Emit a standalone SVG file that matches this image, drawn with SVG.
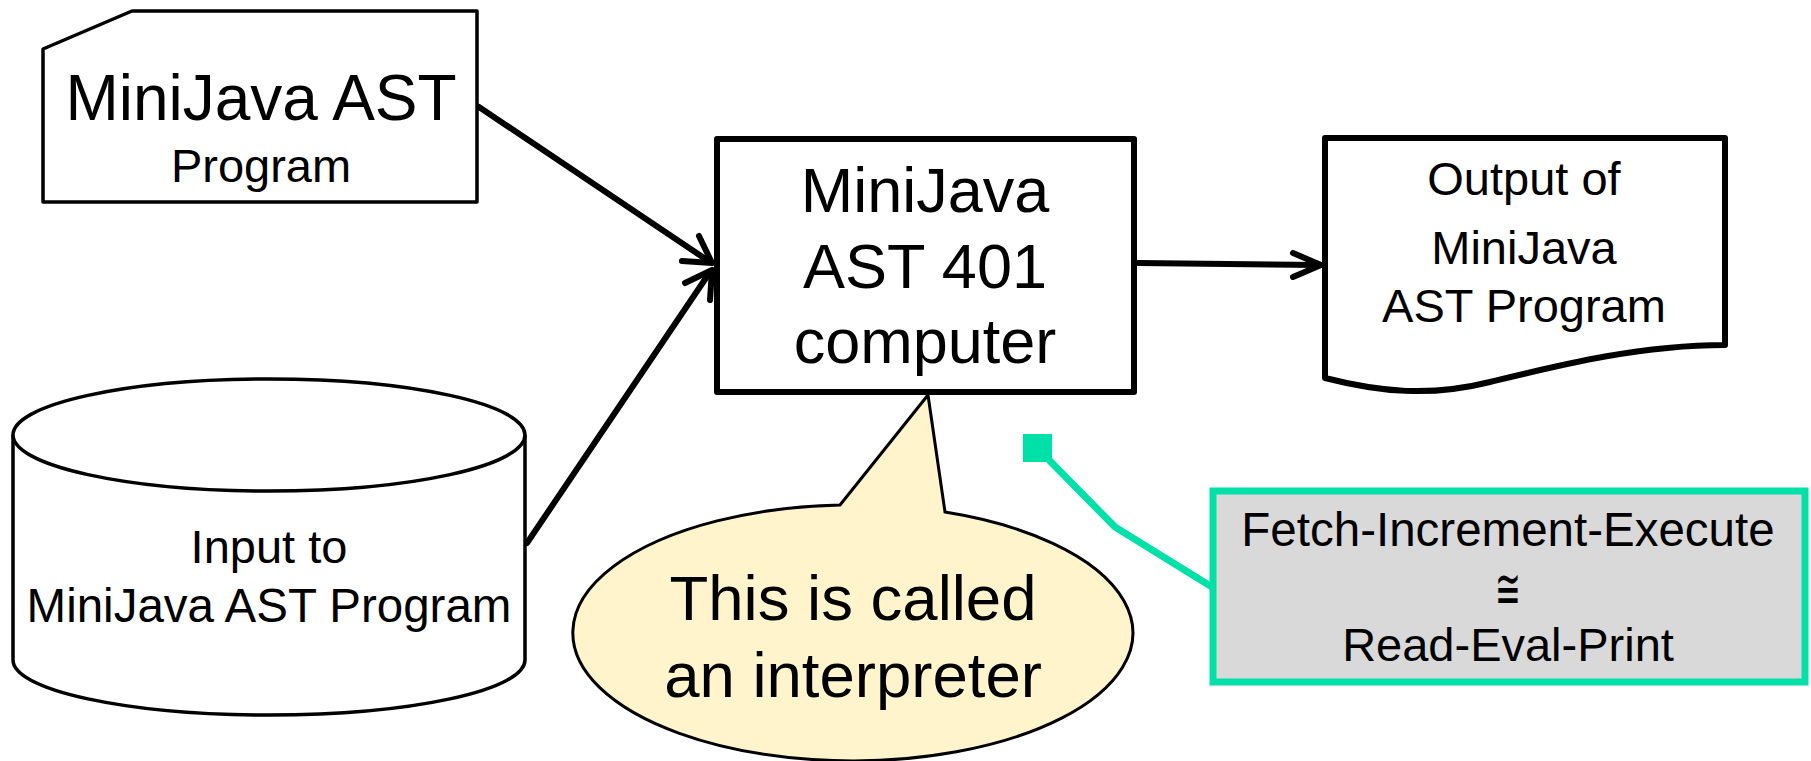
<svg xmlns="http://www.w3.org/2000/svg" width="1811" height="761" viewBox="0 0 1811 761">
<style>
  text { font-family: "Liberation Sans", Arial, sans-serif; fill: #000; text-anchor: middle; }
  .thin { fill: #fff; stroke: #000; stroke-width: 3.5; stroke-linejoin: round; }
  .thick { fill: #fff; stroke: #000; stroke-width: 6; stroke-linejoin: round; }
  .conn { fill: none; stroke: #000; stroke-width: 6; stroke-linecap: round; stroke-linejoin: round; }
  .green { fill: none; stroke: #00E1AA; stroke-width: 7; stroke-linejoin: miter; }
</style>
<rect width="1811" height="761" fill="#fff"/>

<g id="connectors">
  <line class="conn" x1="479" y1="107" x2="710" y2="262"/>
  <polyline class="conn" points="682,261 712,263 699,236"/>
  <line class="conn" x1="527" y1="543" x2="710" y2="272"/>
  <polyline class="conn" points="685,283 712,270 710,300"/>
  <line class="conn" x1="1138" y1="263" x2="1318" y2="265"/>
  <polyline class="conn" points="1293,253 1321,265 1293,277"/>
</g>

<g id="node-ast-program">
  <path class="thin" d="M43,49 L132,11 L477,11 L477,202 L43,202 Z"/>
  <text x="261" y="120" font-size="64">MiniJava AST</text>
  <text x="261" y="182" font-size="47">Program</text>
</g>

<g id="node-input">
  <path class="thin" d="M13,435 L13,660 A256,55 0 0 0 525,660 L525,435 A256,56 0 0 0 13,435 Z"/>
  <path class="thin" d="M13,435 A256,56 0 0 0 525,435" fill="none"/>
  <text x="269" y="563" font-size="47">Input to</text>
  <text x="269" y="622" font-size="47.5">MiniJava AST Program</text>
</g>

<g id="node-computer">
  <rect class="thick" x="717" y="139" width="417" height="253"/>
  <text x="925" y="212" font-size="63">MiniJava</text>
  <text x="925" y="288" font-size="63">AST 401</text>
  <text x="925" y="363" font-size="63">computer</text>
</g>

<g id="node-output">
  <path class="thick" d="M1325,138 L1725,138 L1725,345 C1640,345 1560,365 1490,382 C1430,397 1380,392 1325,378 Z"/>
  <text x="1524" y="195" font-size="47">Output of</text>
  <text x="1524" y="264" font-size="47">MiniJava</text>
  <text x="1524" y="322" font-size="47">AST Program</text>
</g>

<g id="node-callout">
  <path d="M840,505 L928,395 L945,512 A280,128 0 1 1 840,505 Z" fill="#FFF4CC" stroke="#000" stroke-width="3" stroke-linejoin="miter"/>
  <text x="853" y="620" font-size="63.5">This is called</text>
  <text x="853" y="697" font-size="63.5">an interpreter</text>
</g>

<g id="note-connector">
  <polyline class="green" points="1049,460 1115,527 1212,587"/>
  <rect x="1023" y="434" width="29" height="28" fill="#00E1AA"/>
</g>

<g id="node-note">
  <rect x="1213" y="491" width="592" height="191" fill="#D9D9D9" stroke="#00E1AA" stroke-width="7"/>
  <text x="1508" y="546" font-size="47.5">Fetch-Increment-Execute</text>
  <text x="0" y="0" font-size="56" style="font-family:'DejaVu Sans',sans-serif" transform="translate(1508,608) scale(0.55,1)">≅</text>
  <text x="1508" y="661" font-size="47">Read-Eval-Print</text>
</g>
</svg>
